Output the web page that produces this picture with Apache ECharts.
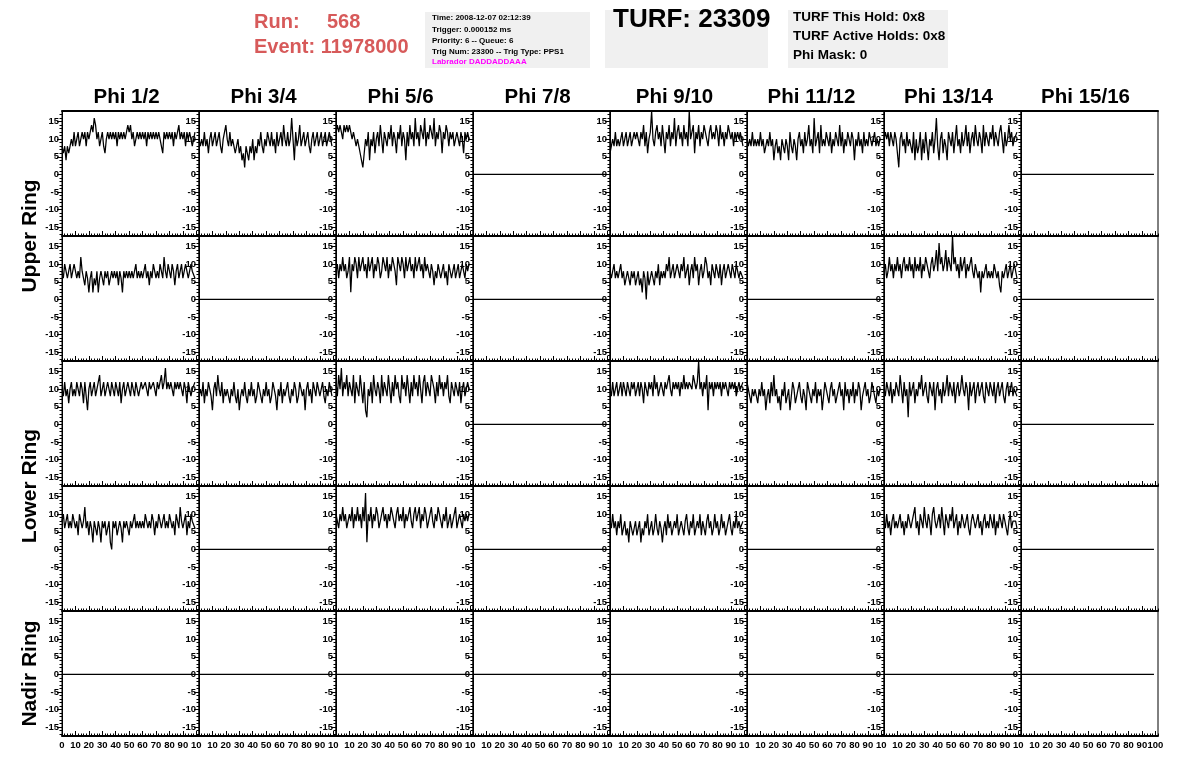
<!DOCTYPE html>
<html>
<head>
<meta charset="utf-8">
<script src="https://cdn.jsdelivr.net/npm/echarts@6/dist/echarts.min.js"></script>
<style>
html,body{margin:0;padding:0;background:#fff;}
#c{width:1196px;height:772px;}
</style>
</head>
<body>
<div id="c"></div>
<script>
// ---------------- data ----------------
const PHI_LABELS = ['Phi 1/2','Phi 3/4','Phi 5/6','Phi 7/8','Phi 9/10','Phi 11/12','Phi 13/14','Phi 15/16'];
const RING_LABELS = ['Upper Ring','Lower Ring','Nadir Ring'];
const Y_TICKS = [-15,-10,-5,0,5,10,15];
const Y_MINOR = [-17,-16,-15,-14,-13,-12,-11,-10,-9,-8,-7,-6,-5,-4,-3,-2,-1,0,1,2,3,4,5,6,7,8,9,10,11,12,13,14,15,16,17];
const X_TICKS = [0,10,20,30,40,50,60,70,80,90,100];
const X_MINOR = [0,2,4,6,8,10,12,14,16,18,20,22,24,26,28,30,32,34,36,38,40,42,44,46,48,50,52,54,56,58,60,62,64,66,68,70,72,74,76,78,80,82,84,86,88,90,92,94,96,98,100,102];
const SAMPLE_NS = 1.0;

const RUN_NO = '568';
const EVENT_NO = '11978000';
const INFO_LINES = ['Time: 2008-12-07 02:12:39','Trigger: 0.000152 ms','Priority: 6 -- Queue: 6','Trig Num: 23300 -- Trig Type: PPS1'];
const LAB_LINE = 'Labrador DADDADDAAA';
const TURF_NO = '23309';
const TURF_LINES = ['TURF This Hold: 0x8','TURF Active Holds: 0x8','Phi Mask: 0'];

// dead channels read 0 for every sample
const DEAD = new Array(100).fill(0);

const U_A1 = [8,6,8,4,8,6,8,10,8,12, 8,10,12,8,10,12,10,12,8,12, 10,12,14,12,16,14,10,12,8,10, 12,8,6,10,12,10,12,10,12,10, 12,8,12,10,12,10,12,10,12,14, 12,14,10,12,8,10,12,10,12,10, 12,10,12,8,12,10,12,10,12,10, 12,10,12,10,8,6,12,10,12,10, 12,10,12,8,12,10,12,14,10,12, 10,12,8,12,10,12,10,8,10,12];
const U_A2 = [10,8,10,8,12,8,10,6,10,12, 8,10,12,8,10,12,8,6,10,12, 14,10,8,12,8,10,8,6,8,10, 6,8,4,6,2,8,6,4,8,6, 10,4,8,6,10,8,12,8,6,10, 8,12,10,8,12,8,10,6,12,8, 10,12,8,14,10,8,12,8,10,16, 10,4,12,8,10,14,8,10,12,8, 10,12,8,6,10,12,8,10,12,8, 10,12,8,10,12,8,10,12,10,8];
const U_A3 = [12,14,12,14,12,10,14,12,14,12, 14,12,10,12,10,8,10,8,6,4, 2,6,10,8,12,4,10,8,12,6, 10,12,8,14,10,6,12,10,8,12, 10,14,8,12,10,6,12,10,14,8, 12,10,4,12,8,14,10,12,8,16, 10,12,8,14,12,10,16,8,12,10, 14,12,10,16,8,12,10,14,12,6, 12,10,14,12,8,12,10,12,8,10, 12,10,8,12,10,6,12,10,12,10];
const U_A5 = [6,8,10,8,12,8,10,8,10,12, 8,10,12,8,10,12,8,10,12,10, 12,10,8,12,10,14,8,12,6,10, 12,18,10,8,12,14,10,12,8,14, 10,6,12,10,14,8,12,10,16,8, 12,14,10,12,8,14,10,12,8,18, 10,12,14,6,12,10,14,8,12,10, 14,12,10,8,12,14,10,12,10,14, 12,8,14,10,12,8,12,10,14,12, 10,12,8,12,10,12,10,12,10,8];
const U_A6 = [10,8,10,8,12,8,10,8,10,8, 12,8,10,6,8,10,8,12,8,10, 4,8,10,6,8,4,10,8,6,10, 8,4,12,8,6,10,8,4,10,12, 8,10,6,12,8,10,14,8,10,6, 16,8,10,12,6,14,8,10,8,12, 10,8,12,6,10,8,12,10,8,14, 8,12,6,10,8,12,10,8,12,10, 4,10,8,12,8,10,6,12,8,10, 8,12,10,8,10,12,8,10,8,10];
const U_A7 = [10,12,10,12,8,12,10,8,12,10, 6,2,10,12,8,10,6,12,8,10, 8,6,12,4,10,6,8,12,4,10, 6,12,8,4,10,8,12,6,10,16, 8,4,10,12,6,10,8,4,12,10, 8,12,6,10,14,8,10,6,12,8, 10,14,8,12,6,10,12,8,14,10, 8,12,10,6,14,8,12,10,8,12, 10,14,8,12,10,8,12,14,10,6, 12,8,10,14,10,12,8,10,10,12];

const U_B1 = [8,6,10,8,6,8,10,6,8,10, 8,6,8,6,12,8,6,4,8,6, 2,6,8,2,6,4,8,2,6,8, 6,4,8,6,8,4,6,8,6,8, 6,8,4,8,6,2,8,6,8,6, 8,6,8,6,8,10,6,8,6,8, 6,8,10,6,8,4,8,6,10,8, 6,8,6,10,8,6,12,8,6,10, 8,6,10,8,4,8,10,6,8,10, 6,8,10,8,6,8,10,8,8,6];
const U_B3 = [8,10,6,10,8,12,8,10,6,8, 12,2,10,8,12,10,6,12,8,10, 12,8,10,6,12,8,10,12,6,10, 8,12,10,6,8,12,10,8,12,6, 10,8,12,10,8,4,12,10,8,12, 10,6,12,8,10,12,8,10,6,12, 8,10,12,8,10,6,12,8,10,8, 6,10,8,4,8,6,10,8,6,8, 10,6,8,4,10,8,6,8,10,6, 8,10,6,8,10,8,6,10,8,10];
const U_B5 = [8,6,8,10,6,8,6,8,10,6, 8,4,6,8,6,4,8,6,8,4, 6,8,4,6,2,8,6,0,8,4, 6,8,6,4,8,6,10,4,8,6, 8,6,10,8,12,6,8,10,6,8, 10,8,6,10,8,12,6,8,10,4, 8,10,6,12,8,10,4,8,10,6, 8,12,10,6,8,4,10,8,6,10, 8,6,10,4,8,10,6,8,10,8, 6,10,8,6,10,8,6,8,8,6];
const U_B7 = [8,10,6,8,12,8,10,6,10,8, 12,8,10,6,10,12,8,10,8,12, 8,10,6,12,8,10,8,12,6,10, 8,12,10,8,6,10,12,8,10,14, 8,16,10,12,8,10,14,8,12,10, 8,18,10,12,8,10,6,12,8,10, 12,6,10,8,10,12,8,6,10,8, 6,8,2,8,6,8,10,6,8,6, 8,6,10,8,6,8,4,2,8,6, 8,10,6,8,10,6,8,10,8,6];

const L_A1 = [10,8,12,8,10,6,10,12,8,10, 8,12,10,8,12,10,6,12,8,4, 10,12,8,10,12,8,10,12,14,8, 10,12,8,10,12,10,8,12,10,8, 12,10,8,12,6,10,12,8,10,12, 10,8,12,10,8,12,10,8,10,12, 10,10,12,10,8,12,10,10,12,10, 8,12,10,12,14,10,12,16,10,12, 10,12,10,8,12,10,12,10,12,10, 8,12,10,6,12,10,8,10,10,12];
const L_A2 = [8,10,8,12,6,10,8,12,10,8, 4,10,12,8,14,10,8,12,6,10, 8,10,8,6,10,8,12,8,6,10, 4,8,10,8,12,8,6,10,8,12, 8,10,6,8,12,10,8,6,10,8, 12,8,10,6,8,12,10,8,4,10, 8,12,6,10,8,10,12,8,6,10, 8,12,10,6,8,12,10,8,10,4, 10,12,8,10,6,12,10,8,12,10, 8,10,12,8,6,10,8,12,10,8];
const L_A3 = [12,8,14,10,16,8,12,10,14,8, 12,10,8,14,6,12,10,8,14,10, 6,12,4,2,10,8,12,6,14,10, 8,12,10,6,14,8,12,10,8,14, 10,6,12,8,14,10,12,8,6,14, 10,12,8,14,10,6,12,8,14,10, 12,8,14,10,6,12,14,8,12,10, 8,14,12,10,6,12,8,14,10,12, 8,12,10,14,8,6,12,10,8,12, 10,8,12,6,10,12,8,10,12,10];
const L_A5 = [10,8,12,8,10,12,8,10,12,8, 12,10,8,12,10,8,12,10,12,8, 10,12,8,12,10,6,12,10,8,12, 10,12,8,14,10,12,8,10,12,10, 8,12,10,12,14,10,8,12,10,12, 10,12,8,12,10,14,10,12,10,12, 12,10,14,12,10,12,18,10,12,8, 12,10,14,4,12,10,12,8,12,10, 12,10,12,8,12,10,12,10,8,12, 10,12,10,12,8,10,12,10,10,12];
const L_A6 = [12,10,8,6,10,8,10,8,6,10, 8,12,8,10,4,8,10,6,12,8, 14,8,10,6,8,4,10,8,12,6, 8,10,4,8,12,10,6,8,10,12, 8,6,10,8,4,12,10,8,6,10, 8,12,6,10,8,10,4,8,12,10, 8,6,10,12,8,10,6,8,10,12, 8,10,4,12,8,10,6,10,8,12, 6,10,8,12,10,4,8,10,12,8, 10,6,8,12,10,8,6,10,8,10];
const L_A7 = [10,8,12,10,8,12,6,10,8,12, 10,8,14,10,6,12,8,10,2,12, 8,10,12,6,10,8,12,10,14,8, 10,12,8,6,12,10,8,12,4,10, 12,8,10,6,12,8,10,14,8,12, 10,8,12,6,10,12,8,10,14,10, 8,12,10,4,12,8,10,12,6,10, 12,8,10,12,8,6,12,10,8,12, 10,8,12,6,10,12,8,10,12,8, 6,10,12,8,10,12,8,10,10,8];

const L_B1 = [8,10,6,8,10,6,8,6,10,8, 6,8,4,10,8,6,8,12,6,8, 4,8,6,2,8,6,4,8,6,2, 8,6,8,4,6,8,2,0,8,6, 8,4,6,8,6,2,8,6,8,6, 4,8,6,8,10,6,8,6,8,6, 8,6,10,8,6,8,6,10,8,4, 8,6,10,8,6,8,10,6,8,6, 10,8,6,8,4,10,8,6,12,8, 6,8,10,4,8,6,10,8,8,6];
const L_B3 = [10,8,6,10,8,12,8,10,6,8, 10,8,12,6,10,8,12,8,10,6, 12,8,16,2,10,8,12,6,10,8, 12,10,6,8,10,12,8,10,6,10, 8,12,10,8,6,10,12,8,10,8, 12,6,10,8,10,12,8,6,10,12, 8,10,12,6,10,8,12,10,6,8, 10,12,8,6,10,8,12,10,8,6, 10,8,12,6,8,10,6,8,10,12, 6,8,10,8,6,10,8,10,8,10];
const L_B5 = [8,6,10,6,8,4,8,6,10,4, 6,8,4,6,2,8,6,4,6,8, 4,6,8,2,6,4,8,6,10,4, 6,8,4,6,10,6,4,8,6,2, 6,8,4,10,6,8,4,6,8,6, 10,4,6,8,6,4,8,10,6,4, 8,6,10,4,6,8,6,10,4,8, 6,4,8,10,6,8,4,6,10,6, 8,4,6,10,6,8,4,6,8,10, 6,4,8,6,10,6,8,6,6,8];
const L_B7 = [8,6,10,6,8,4,8,10,6,8, 6,8,10,6,8,4,8,6,10,8, 6,8,10,12,6,8,4,10,8,6, 12,8,6,10,8,4,10,12,8,6, 8,10,6,12,8,4,10,8,6,10, 8,12,6,8,10,4,8,6,10,8, 6,8,10,6,4,8,10,8,6,8, 10,6,8,4,8,10,6,8,6,10, 8,6,10,4,8,6,10,8,6,10, 8,6,4,8,10,6,8,8,8,6];

// panel table: rows = upper ring (2 rows), lower ring (2 rows), nadir ring; columns = phi pairs
const PANELS = [
  [U_A1, U_A2, U_A3, DEAD, U_A5, U_A6, U_A7, DEAD],
  [U_B1, DEAD, U_B3, DEAD, U_B5, DEAD, U_B7, DEAD],
  [L_A1, L_A2, L_A3, DEAD, L_A5, L_A6, L_A7, DEAD],
  [L_B1, DEAD, L_B3, DEAD, L_B5, DEAD, L_B7, DEAD],
  [DEAD, DEAD, DEAD, DEAD, DEAD, DEAD, DEAD, DEAD]
];

// ---------------- layout ----------------
const FONT = '"Liberation Sans", Arial, Helvetica, sans-serif';
const LEFT = 62, TOP = 111, CW = 137, RH = 125;
const NR = PANELS.length, NC = PANELS[0].length;

const grids = [], xAxes = [], yAxes = [], series = [];
for (let r = 0; r < NR; r++) {
  for (let c = 0; c < NC; c++) {
    const g = grids.length;
    grids.push({left: LEFT + c*CW, top: TOP + r*RH, width: CW, height: RH,
      show: true, borderColor: '#000', borderWidth: 1, backgroundColor: 'transparent'});
    const last = (r === NR-1);
    const xi = xAxes.length;
    xAxes.push({gridIndex: g, type: 'value', min: 0, max: 102, position: 'bottom',
      axisLine: {show: true, onZero: false, lineStyle: {color: '#000', width: 2}},
      axisTick: {show: true, inside: true, length: 5, customValues: X_TICKS, lineStyle: {color: '#000', width: 1}},
      splitLine: {show: false},
      axisLabel: last ? {show: true, customValues: X_TICKS, hideOverlap: false, margin: 4,
        showMinLabel: true, showMaxLabel: true,
        color: '#000', fontSize: 9.5, fontWeight: 'bold', fontFamily: FONT,
        formatter: function (v) {
          if (v === 0 && c > 0) return '';
          if (v === 100 && c < NC-1) return '10';
          return String(v);
        }
      } : {show: false}
    });
    xAxes.push({gridIndex: g, type: 'value', min: 0, max: 102, position: 'bottom',
      axisLine: {show: false, onZero: false}, splitLine: {show: false}, axisLabel: {show: false},
      axisTick: {show: true, inside: true, length: 2.5, customValues: X_MINOR, lineStyle: {color: '#000', width: 1}}
    });
    if (r === 0) {
      xAxes.push({gridIndex: g, type: 'value', min: 0, max: 102, position: 'top',
        axisLine: {show: true, onZero: false, lineStyle: {color: '#000', width: 2}},
        axisTick: {show: false}, axisLabel: {show: false}, splitLine: {show: false}});
    }
    const yi = yAxes.length;
    yAxes.push({gridIndex: g, type: 'value', min: -17.5, max: 18, position: 'left',
      axisLine: {show: true, onZero: false, lineStyle: {color: '#000', width: 1}},
      axisTick: {show: true, inside: false, length: 5, customValues: Y_TICKS, lineStyle: {color: '#000'}},
      splitLine: {show: false},
      axisLabel: {show: true, customValues: Y_TICKS, margin: 3, color: '#000', fontSize: 9.5,
        fontWeight: 'bold', fontFamily: FONT}
    });
    yAxes.push({gridIndex: g, type: 'value', min: -17.5, max: 18, position: 'left',
      axisLine: {show: false, onZero: false}, splitLine: {show: false}, axisLabel: {show: false},
      axisTick: {show: true, inside: false, length: 2.5, customValues: Y_MINOR, lineStyle: {color: '#000'}}
    });
    series.push({type: 'line', xAxisIndex: xi, yAxisIndex: yi,
      data: PANELS[r][c].map((v, i) => [i*SAMPLE_NS, v]),
      showSymbol: false, symbol: 'none', silent: true, clip: true,
      lineStyle: {color: '#000', width: 1.25}, animation: false});
  }
}

const RED = '#d75a5a';
const graphic = [];
// header info
graphic.push({type: 'text', x: 254, y: 22, style: {text: 'Run:', font: 'bold 20px ' + FONT, fill: RED, verticalAlign: 'middle'}});
graphic.push({type: 'text', x: 327, y: 22, style: {text: RUN_NO, font: 'bold 20px ' + FONT, fill: RED, verticalAlign: 'middle'}});
graphic.push({type: 'text', x: 254, y: 47, style: {text: 'Event: ' + EVENT_NO, font: 'bold 20px ' + FONT, fill: RED, verticalAlign: 'middle'}});

graphic.push({type: 'rect', shape: {x: 425, y: 12, width: 165, height: 56}, style: {fill: '#f0f0f0'}});
const infoY = [18, 29.5, 41, 52, 62];
INFO_LINES.forEach((t, i) => graphic.push({type: 'text', x: 432, y: infoY[i],
  style: {text: t, font: 'bold 8px ' + FONT, fill: '#000', verticalAlign: 'middle'}}));
graphic.push({type: 'text', x: 432, y: infoY[4], style: {text: LAB_LINE, font: 'bold 8px ' + FONT, fill: '#ff00ff', verticalAlign: 'middle'}});

graphic.push({type: 'rect', shape: {x: 605, y: 10, width: 163, height: 58}, style: {fill: '#f0f0f0'}});
graphic.push({type: 'text', x: 613, y: 20, style: {text: 'TURF: ' + TURF_NO, font: 'bold 26px ' + FONT, fill: '#000', verticalAlign: 'middle'}});

graphic.push({type: 'rect', shape: {x: 788, y: 10, width: 160, height: 58}, style: {fill: '#f0f0f0'}});
const turfY = [17, 36, 55];
TURF_LINES.forEach((t, i) => graphic.push({type: 'text', x: 793, y: turfY[i],
  style: {text: t, font: 'bold 13.5px ' + FONT, fill: '#000', verticalAlign: 'middle'}}));

// column headers
PHI_LABELS.forEach((t, c) => graphic.push({type: 'text', x: LEFT + c*CW + CW/2 - 4, y: 97,
  style: {text: t, font: 'bold 20.5px ' + FONT, fill: '#000', align: 'center', verticalAlign: 'middle'}}));
// ring labels
const ringY = [TOP + RH, TOP + 3*RH, TOP + 4.5*RH];
RING_LABELS.forEach((t, i) => graphic.push({type: 'text', x: 30, y: ringY[i], rotation: Math.PI/2,
  style: {text: t, font: 'bold 21px ' + FONT, fill: '#000', align: 'center', verticalAlign: 'middle'}}));

const chart = echarts.init(document.getElementById('c'), null, {renderer: 'canvas'});
chart.setOption({
  animation: false,
  backgroundColor: '#fff',
  grid: grids, xAxis: xAxes, yAxis: yAxes, series: series,
  graphic: graphic
});
</script>
</body>
</html>
